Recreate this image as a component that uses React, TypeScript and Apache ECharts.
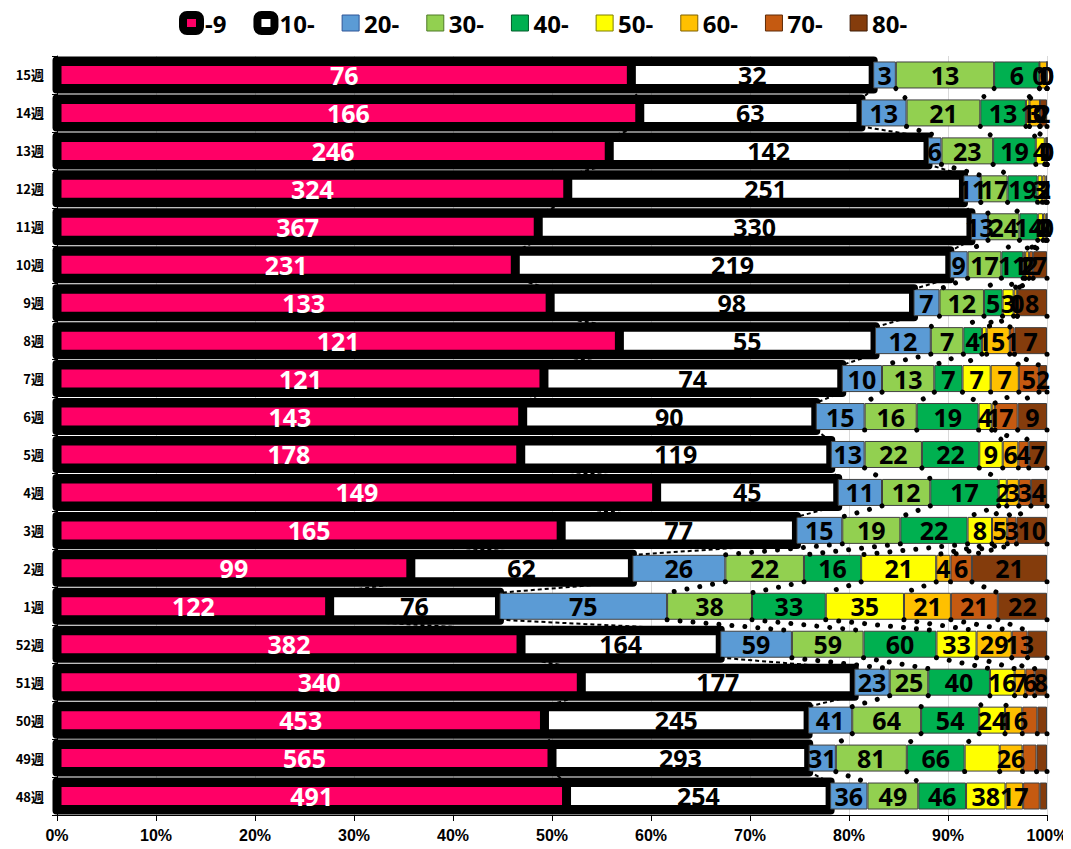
import React, { useEffect, useRef } from 'react';
import * as echarts from 'echarts';

const weeks = ['15週','14週','13週','12週','11週','10週','9週','8週','7週','6週','5週','4週','3週','2週','1週','52週','51週','50週','49週','48週'];
const ageGroups = ['-9','10-','20-','30-','40-','50-','60-','70-','80-'];

const age0_9 = [76,166,246,324,367,231,133,121,121,143,178,149,165,99,122,382,340,453,565,491];
const age10 = [32,63,142,251,330,219,98,55,74,90,119,45,77,62,76,164,177,245,293,254];
const age20 = [3,13,6,11,13,9,7,12,10,15,13,11,15,26,75,59,23,41,31,36];
const age30 = [13,21,23,17,24,17,12,7,13,16,22,12,19,22,38,59,25,64,81,49];
const age40 = [6,13,19,19,14,11,5,4,7,19,22,17,22,16,33,60,40,54,66,46];
const age50 = [0,1,4,3,4,1,3,1,7,4,9,2,8,21,35,33,16,24,40,38];
const age60 = [1,3,1,2,2,2,1,5,7,1,6,3,5,4,21,29,7,16,26,17];
const age70 = [0,0,0,1,1,2,0,1,5,7,4,3,3,6,21,13,6,14,16,16];
const age80 = [0,2,0,0,0,7,8,7,2,9,7,4,10,21,22,16,8,9,12,7];

const hiddenLabels: [string, number][] = [
  ['52週', 8], ['50週', 7], ['50週', 8], ['49週', 5], ['49週', 7], ['49週', 8], ['48週', 7], ['48週', 8],
];

const colors = ['#FF0066','#FFFFFF','#5B9BD5','#92D050','#00B050','#FFFF00','#FFC000','#C55A11','#843C0C'];
const legendBorders = ['#000','#000','#2F5597','#4E7A27','#005C2A','#7F7F00','#7F6000','#5E2B08','#3F1C06'];

export default function App() {
  const ref = useRef<HTMLDivElement>(null);
  useEffect(() => {
    if (!ref.current) return;
    const chart = echarts.init(ref.current, null, { renderer: 'svg' });
    const groups = [age0_9, age10, age20, age30, age40, age50, age60, age70, age80];
    const totals = weeks.map((_, i) => groups.reduce((s, g) => s + g[i], 0));
    const pct = groups.map(g => g.map((v, i) => (v / totals[i]) * 100));
    const cum: number[][] = weeks.map((_, i) => {
      let s = 0;
      return groups.map((_, k) => { s += pct[k][i]; return s; });
    });
    const BAR = 27;

    const barSeries = groups.map((g, k) => ({
      name: ageGroups[k],
      type: 'bar',
      stack: 'total',
      barWidth: BAR,
      itemStyle: k < 2
        ? { color: colors[k], borderColor: '#000', borderWidth: 4.5 }
        : { color: colors[k], borderColor: '#404040', borderWidth: 1 },
      label: {
        show: true,
        position: 'inside',
        color: k === 0 ? '#fff' : '#000',
        fontSize: 25,
        fontWeight: 'bold',
        fontFamily: 'Open Sans',
        formatter: (p: any) => String(g[p.dataIndex]),
      },
      data: pct[k].map((v, i) => {
        const hide = hiddenLabels.some(([w, gi]) => w === weeks[i] && gi === k);
        return hide ? { value: v, label: { show: false } } : v;
      }),
      z: 2,
    }));

    const outlineSeries = {
      type: 'custom',
      coordinateSystem: 'cartesian2d',
      z: 1,
      silent: true,
      encode: { x: 0, y: 1 },
      data: weeks.map((_, i) => [cum[i][1], i]),
      renderItem: (params: any, api: any) => {
        const i = params.dataIndex;
        const a = api.coord([0, i]);
        const b = api.coord([cum[i][1], i]);
        return {
          type: 'rect',
          shape: { x: a[0] - 4.5, y: a[1] - 18.5, width: b[0] - a[0] + 9, height: 37, r: 4 },
          style: { fill: '#000' },
        };
      },
    };

    const linesSeries = {
      type: 'custom',
      coordinateSystem: 'cartesian2d',
      z: 3,
      silent: true,
      encode: { x: 0, y: 1 },
      data: weeks.slice(0, -1).map((_, i) => [0, i]),
      renderItem: (params: any, api: any) => {
        const i = params.dataIndex;
        const children: any[] = [];
        for (let k = 0; k < groups.length; k++) {
          const a = api.coord([cum[i][k], i]);
          const b = api.coord([cum[i + 1][k], i + 1]);
          const y1 = a[1] + BAR / 2;
          const y2 = b[1] - BAR / 2;
          children.push({
            type: 'line',
            shape: { x1: a[0], y1, x2: b[0], y2 },
            style: k < 2
              ? { stroke: '#000', lineWidth: 2, lineDash: [4, 3] }
              : { stroke: '#000', lineWidth: 5, lineCap: 'round', lineDash: [0.01, 13] },
          });
        }
        return { type: 'group', children };
      },
    };

    chart.setOption({
      animation: false,
      backgroundColor: '#fff',
      legend: {
        top: 6,
        left: 174,
        itemWidth: 17,
        itemHeight: 16,
        itemGap: 27,
        icon: 'rect',
        textStyle: { fontSize: 24, fontWeight: 'bold', fontFamily: 'Open Sans', color: '#000' },
        data: ageGroups.map((n, k) => (k < 2
          ? { name: n, icon: 'roundRect', itemStyle: { color: colors[k], borderColor: '#000', borderWidth: 8 } }
          : { name: n, itemStyle: { color: colors[k], borderColor: legendBorders[k], borderWidth: 1 } })),
      },
      grid: { left: 57, right: 24, top: 56, bottom: 34 },
      xAxis: {
        type: 'value',
        min: 0,
        max: 100,
        interval: 10,
        axisLine: { show: true, lineStyle: { color: '#000', width: 1 } },
        axisTick: { show: true, length: 6, lineStyle: { color: '#000' } },
        splitLine: { show: true, lineStyle: { color: '#d9d9d9', width: 1 } },
        axisLabel: {
          formatter: '{value}%',
          color: '#000',
          fontSize: 16,
          fontWeight: 'bold',
          fontFamily: 'Liberation Sans',
          margin: 12,
        },
      },
      yAxis: {
        type: 'category',
        inverse: true,
        data: weeks,
        axisLine: { show: true, lineStyle: { color: '#000', width: 1 } },
        axisTick: { show: true, length: 5, lineStyle: { color: '#000' } },
        axisLabel: {
          color: '#000',
          fontSize: 13,
          fontWeight: 'bold',
          fontFamily: 'Noto Sans CJK JP',
          margin: 13,
        },
      },
      series: [outlineSeries, linesSeries, ...barSeries],
    });
    return () => chart.dispose();
  }, []);
  return <div ref={ref} style={{ width: 1071, height: 849, margin: -8 }} />;
}
